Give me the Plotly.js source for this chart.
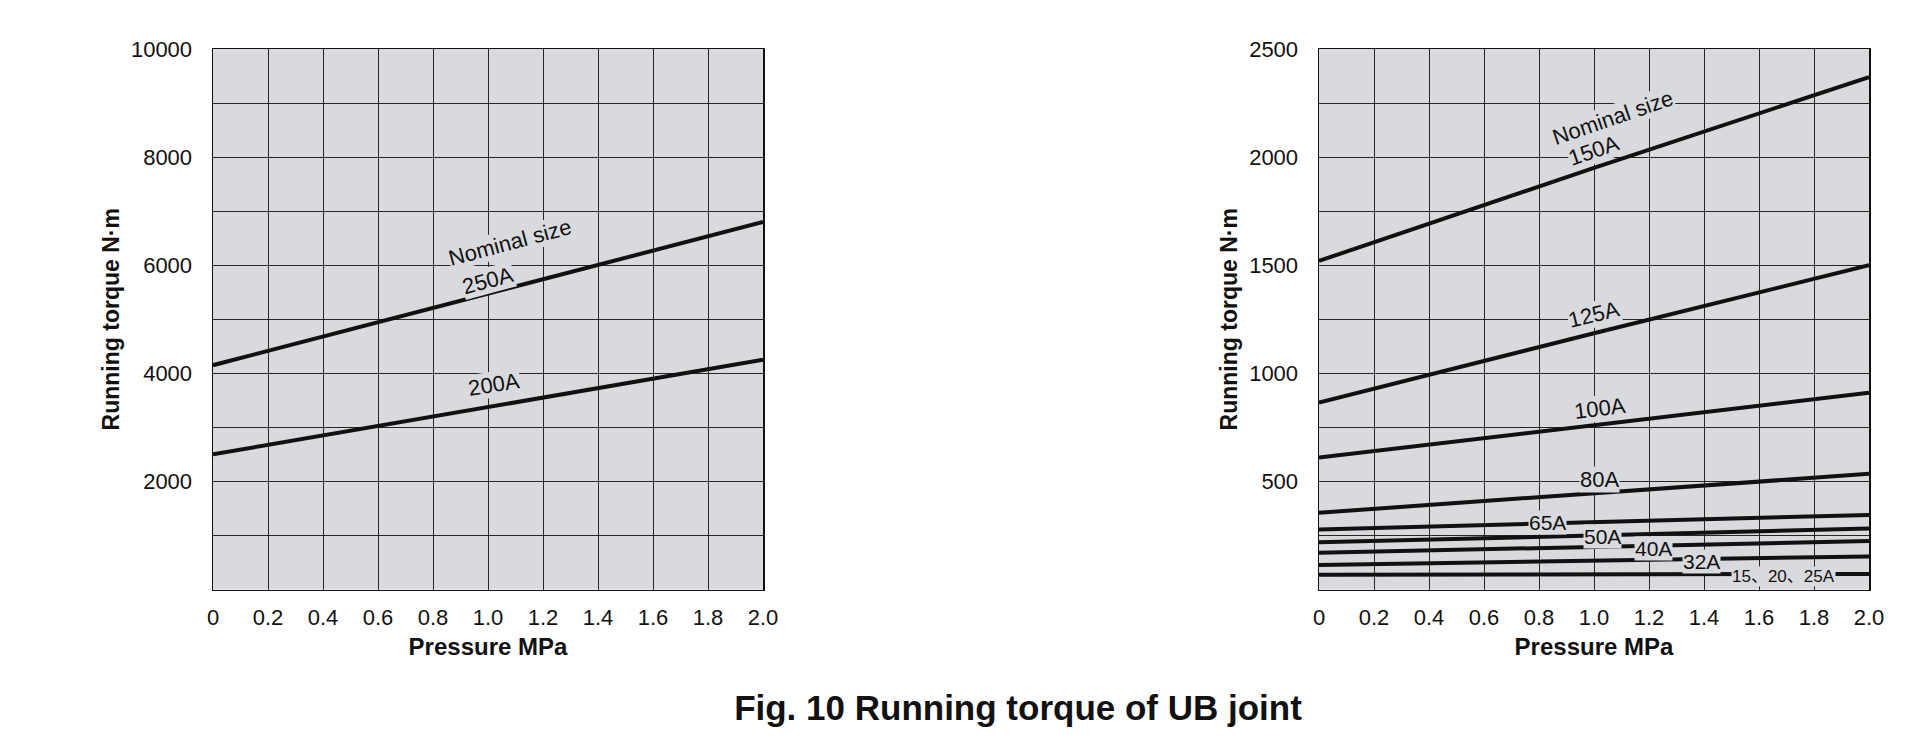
<!DOCTYPE html>
<html>
<head>
<meta charset="utf-8">
<script src="https://cdn.plot.ly/plotly-3.0.1.min.js"></script>
<style>html,body{margin:0;padding:0;background:#fff;}#chart{width:1920px;height:737px;}</style>
</head>
<body>
<div id="chart"></div>
<script>
// ---- data ----
const pressure = [0, 1.0, 2.0];

// left chart (large sizes)
const torque250A = [4150, 5475, 6800];
const torque200A = [2500, 3380, 4250];

// right chart (small sizes)
const torque150A = [1520, 1950, 2370];
const torque125A = [865, 1185, 1500];
const torque100A = [610, 760, 910];
const torque80A  = [355, 443, 535];
const torque65A  = [278, 312, 345];
const torque50A  = [218, 250, 282];
const torque40A  = [170, 197, 224];
const torque32A  = [113, 133, 153];
const torque15A  = [68, 70, 72];

const xTickVals = [0, 0.2, 0.4, 0.6, 0.8, 1.0, 1.2, 1.4, 1.6, 1.8, 2.0];
const xTickText = ['0', '0.2', '0.4', '0.6', '0.8', '1.0', '1.2', '1.4', '1.6', '1.8', '2.0'];
const yLeftTicks = [2000, 4000, 6000, 8000, 10000];
const yLeftText = ['2000', '4000', '6000', '8000', '10000'];
const yRightTicks = [500, 1000, 1500, 2000, 2500];
const yRightText = ['500', '1000', '1500', '2000', '2500'];

const titleText = 'Fig. 10 Running torque of UB joint';
const yTitle = 'Running torque N·m';
const xTitle = 'Pressure MPa';

// ---- styling ----
const ink = '#111111';
const plotBg = '#d9dade';
const gridCol = '#262626';
const fam = '"Liberation Sans", Arial, "Noto Sans CJK JP", sans-serif';

function line(x, y, xa, ya, name) {
  return {x: x, y: y, xaxis: xa, yaxis: ya, name: name, type: 'scatter', mode: 'lines',
          line: {color: ink, width: 4}, showlegend: false, hoverinfo: 'x+y+name'};
}

const traces = [
  line(pressure, torque250A, 'x', 'y', '250A'),
  line(pressure, torque200A, 'x', 'y', '200A'),
  line(pressure, torque150A, 'x2', 'y2', '150A'),
  line(pressure, torque125A, 'x2', 'y2', '125A'),
  line(pressure, torque100A, 'x2', 'y2', '100A'),
  line(pressure, torque80A, 'x2', 'y2', '80A'),
  line(pressure, torque65A, 'x2', 'y2', '65A'),
  line(pressure, torque50A, 'x2', 'y2', '50A'),
  line(pressure, torque40A, 'x2', 'y2', '40A'),
  line(pressure, torque32A, 'x2', 'y2', '32A'),
  line(pressure, torque15A, 'x2', 'y2', '15、20、25A')
];

function xAxis(domain, anchor) {
  return {
    domain: domain, anchor: anchor, range: [0, 2.0],
    tickvals: xTickVals, ticktext: xTickText,
    showgrid: true, gridcolor: gridCol, gridwidth: 1,
    zeroline: false, showline: true, mirror: true, linecolor: ink, linewidth: 1.5,
    ticks: '', ticklabelstandoff: 8,
    tickfont: {family: fam, size: 22, color: ink},
    title: {text: xTitle, standoff: 9, font: {family: fam, size: 24, color: ink, weight: 'bold'}},
    fixedrange: true
  };
}
function yAxis(domain, anchor, range, ticks, text, minorStep) {
  return {
    domain: domain, anchor: anchor, range: range,
    tickvals: ticks, ticktext: text,
    showgrid: true, gridcolor: gridCol, gridwidth: 1,
    minor: {dtick: minorStep, tick0: 0, showgrid: true, gridcolor: gridCol, gridwidth: 1, ticks: ''},
    zeroline: false, showline: true, mirror: true, linecolor: ink, linewidth: 1.5,
    ticks: '', ticklabelstandoff: 15,
    tickfont: {family: fam, size: 22, color: ink},
    title: {text: yTitle, standoff: 5, font: {family: fam, size: 23, color: ink, weight: 'bold'}},
    fixedrange: true
  };
}

function lab(text, xa, ya, x, y, angle, size) {
  return {text: text, xref: xa, yref: ya, x: x, y: y, showarrow: false, textangle: angle,
          font: {family: fam, size: size || 22, color: ink},
          bgcolor: plotBg, borderpad: 0, xanchor: 'center', yanchor: 'middle'};
}

const annotations = [
  lab('Nominal size', 'x', 'y', 1.08, 6420, -15),
  lab('250A', 'x', 'y', 1.0, 5720, -15),
  lab('200A', 'x', 'y', 1.02, 3800, -9),
  lab('Nominal size', 'x2', 'y2', 1.07, 2182, -19),
  lab('150A', 'x2', 'y2', 1.0, 2030, -19),
  lab('125A', 'x2', 'y2', 1.0, 1272, -14),
  lab('100A', 'x2', 'y2', 1.02, 838, -7),
  lab('80A', 'x2', 'y2', 1.02, 508, 0),
  lab('65A', 'x2', 'y2', 0.83, 310, 0, 21),
  lab('50A', 'x2', 'y2', 1.03, 246, 0, 21),
  lab('40A', 'x2', 'y2', 1.215, 189, 0, 21),
  lab('32A', 'x2', 'y2', 1.39, 131, 0, 21),
  lab('15、20、25A', 'x2', 'y2', 1.69, 61, 0, 17)
];

const W = 1920, H = 737;
const layout = {
  width: W, height: H,
  margin: {l: 0, r: 0, t: 0, b: 0},
  paper_bgcolor: '#ffffff',
  plot_bgcolor: plotBg,
  showlegend: false,
  title: {text: titleText, x: 1018 / W, xanchor: 'center', xref: 'paper',
          y: 1 - 708 / H, yref: 'paper', yanchor: 'middle',
          font: {family: fam, size: 35, color: ink, weight: 'bold'}},
  xaxis: xAxis([213 / W, 763 / W], 'y'),
  yaxis: yAxis([1 - 589.5 / H, 1 - 49 / H], 'x', [0, 10000], yLeftTicks, yLeftText, 1000),
  xaxis2: xAxis([1319 / W, 1869 / W], 'y2'),
  yaxis2: yAxis([1 - 589.5 / H, 1 - 49 / H], 'x2', [0, 2500], yRightTicks, yRightText, 250),
  annotations: annotations
};

Plotly.newPlot('chart', traces, layout, {displayModeBar: false, staticPlot: true});
</script>
</body>
</html>
